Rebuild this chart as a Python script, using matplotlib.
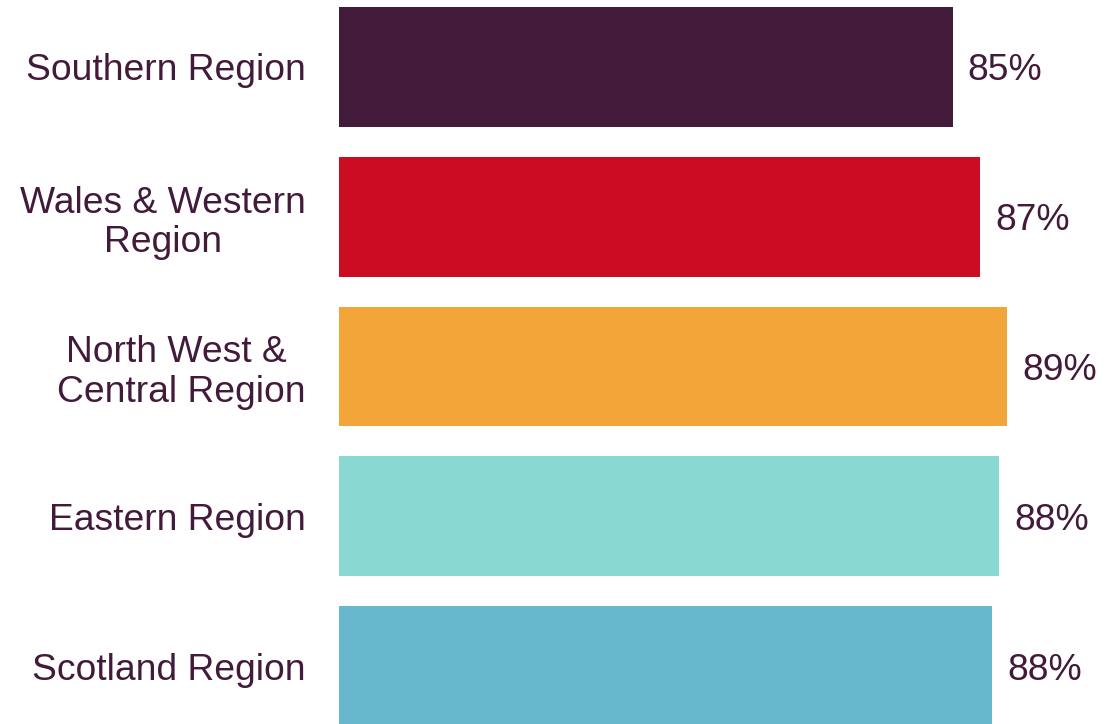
import matplotlib
matplotlib.use("Agg")
import matplotlib.pyplot as plt

regions = ["Southern Region", "Wales & Western\nRegion", "North West &\u00a0\nCentral Region",
           "Eastern Region", "Scotland Region"]
scores = [85.0, 87.0, 89.0, 88.4, 87.9]
colors = ["#421A3A", "#CC0C22", "#F2A63A", "#89D8D2", "#67B7CD"]
text_col = "#421A3A"

plt.rcParams['font.family'] = ['Liberation Sans', 'DejaVu Sans']

fig = plt.figure(figsize=(11.12, 7.24), dpi=100)
ax = fig.add_axes([339/1112, 0, 1 - 339/1112, 1])

pos = list(range(len(regions)))
# axis starts at 40%, so bars are clipped there
ax.barh(pos, scores, height=0.8, color=colors)
ax.set_xlim(40, 40 + 773/13.64)
ax.set_ylim(4.387, -0.447)

for p, v in zip(pos, scores):
    ax.text(v + 15/13.64, p, "%d%%" % round(v), va='center_baseline', ha='left',
            fontsize=26.8, color=text_col)

ax.set_yticks(pos)
ax.set_yticklabels(regions, fontsize=26.8, color=text_col)
for lbl in ax.get_yticklabels():
    lbl.set_multialignment('center')
    lbl.set_linespacing(1.15)
ax.tick_params(axis='y', length=0, pad=24)
ax.set_xticks([])
for s in ax.spines.values():
    s.set_visible(False)

fig.savefig("out.png", dpi=100)
